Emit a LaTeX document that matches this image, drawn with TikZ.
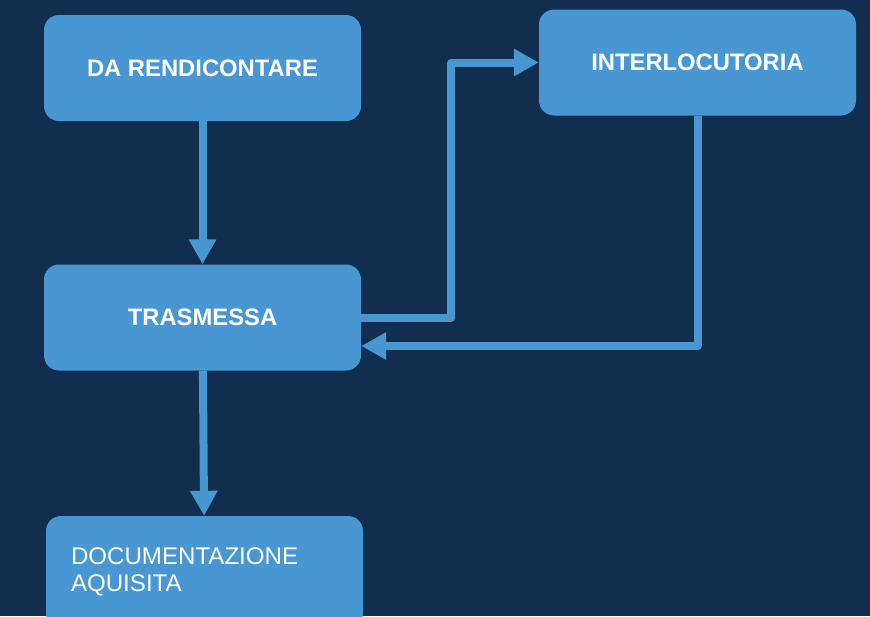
\documentclass[tikz,border=0pt]{standalone}
\usepackage{fontspec}
\setmainfont{Liberation Sans}
\usepackage{xcolor}
\usetikzlibrary{arrows.meta}

\definecolor{navybg}{HTML}{112E4E}
\definecolor{boxblue}{HTML}{4897D2}

\tikzset{
  stepbox/.style={rectangle, rounded corners=15pt, fill=boxblue, text=white,
    minimum width=317pt, minimum height=106pt, font=\fontsize{23.8}{27}\selectfont\bfseries},
  flow/.style={draw=boxblue, line width=8pt, line join=round,
    -{Triangle[width=26pt, length=25pt]}}
}

\begin{document}
\begin{tikzpicture}[x=1pt, y=-1pt]
\fill[navybg] (0,0) rectangle (870,616);
\useasboundingbox (0,0) rectangle (870,616);
\node[stepbox] (rend) at (202.5,68) {DA RENDICONTARE};
\node[stepbox] (inter) at (697.5,62.5) {INTERLOCUTORIA};
\node[stepbox] (tras) at (202.5,317.5) {TRASMESSA};
\node[stepbox, minimum height=112pt, text width=267pt, inner xsep=25pt, align=left,
  font=\fontsize{24.1}{27}\selectfont] (doc) at (204.5,572) {DOCUMENTAZIONE\\AQUISITA};
\draw[flow] (rend) -- (tras);
\draw[flow] (tras.east) -- ++(90,0) |- (inter.west);
\draw[flow] (inter.south) |- ([yshift=-28.5pt]tras.east);
\draw[flow] (tras) -- (doc);
\end{tikzpicture}
\end{document}
